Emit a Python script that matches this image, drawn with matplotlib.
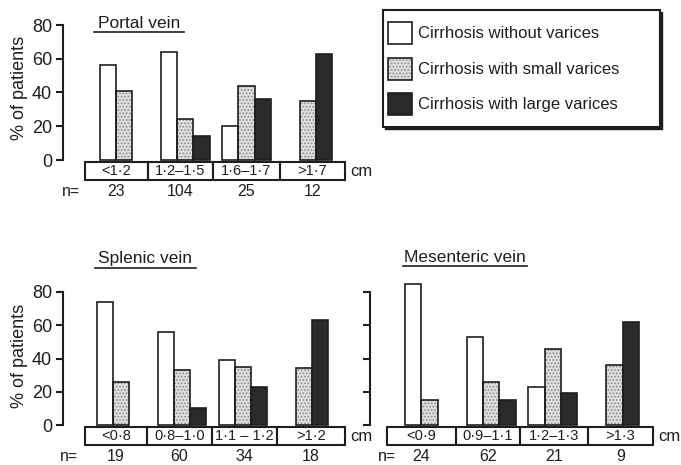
import numpy as np
import matplotlib
matplotlib.use("Agg")
import matplotlib.pyplot as plt
from matplotlib.patches import Rectangle
from matplotlib.lines import Line2D
import matplotlib.transforms as mtransforms

plt.rcParams['font.family'] = ['Liberation Sans', 'DejaVu Sans']
plt.rcParams['hatch.linewidth'] = 0.8

# ---- data ----
portal_cats = ["<1·2", "1·2–1·5", "1·6–1·7", ">1·7"]
portal_n = [23, 104, 25, 12]
portal_none = [56, 64, 20, None]
portal_small = [41, 24, 44, 35]
portal_large = [None, 14, 36, 63]

splenic_cats = ["<0·8", "0·8–1·0", "1·1 – 1·2", ">1·2"]
splenic_n = [19, 60, 34, 18]
splenic_none = [74, 56, 39, None]
splenic_small = [26, 33, 35, 34]
splenic_large = [None, 10, 23, 63]

mes_cats = ["<0·9", "0·9–1·1", "1·2–1·3", ">1·3"]
mes_n = [24, 62, 21, 9]
mes_none = [85, 53, 23, None]
mes_small = [15, 26, 46, 36]
mes_large = [None, 15, 19, 62]

legend_labels = ["Cirrhosis without varices",
                 "Cirrhosis with small varices",
                 "Cirrhosis with large varices"]

W, H = 681, 465
fig = plt.figure(figsize=(W / 100, H / 100), dpi=100)
fig.patch.set_facecolor("white")

INK = "#1e1e1e"
DOTS = "#8c8c8c"
faces = ["white", "#dedede", "#2a2a2a"]
hatches = [None, ".....", None]
BW = 0.265


def fx(px):
    return px / W


def fy(py):
    return 1 - py / H


def panel(spine_px, g0_px, step_px, top_px, bottom_px, box_px,
          cats, ns, series, labels_on, n_y, n_x):
    xmax = 3.7
    xmin = (spine_px - g0_px) / step_px
    right_px = g0_px + xmax * step_px
    ax = fig.add_axes([fx(spine_px), fy(bottom_px),
                       (right_px - spine_px) / W, (bottom_px - top_px) / H])
    ax.set_xlim(xmin, xmax)
    ax.set_ylim(0, 80)
    x = np.arange(len(cats))
    for k, vals in enumerate(series):
        for xi, v in zip(x, vals):
            if v is None:
                continue
            pos = xi + (k - 1) * BW
            # fill (with stipple for the middle series), then outline
            ax.bar(pos, v, BW, color=faces[k], hatch=hatches[k],
                   edgecolor=DOTS, linewidth=0, clip_on=False, zorder=3)
            ax.bar(pos, v, BW, fill=False, edgecolor=INK, linewidth=1.2,
                   clip_on=False, zorder=4)
    for s in ["top", "right", "bottom"]:
        ax.spines[s].set_visible(False)
    ax.spines["left"].set_linewidth(1.5)
    ax.spines["left"].set_color(INK)
    ax.set_xticks([])
    ax.set_yticks([0, 20, 40, 60, 80])
    ax.tick_params(axis="y", direction="out", length=5, width=1.5,
                   color=INK, labelsize=13, pad=3, labelcolor=INK)
    if not labels_on:
        ax.set_yticklabels([])
    ax.set_facecolor("none")

    # category boxes under the axis
    h = bottom_px - top_px
    trans = mtransforms.blended_transform_factory(ax.transData, ax.transAxes)
    edges = [(p - g0_px) / step_px for p in box_px]
    y_top = -2 / h
    y_bot = -20 / h
    for i, lab in enumerate(cats):
        ax.add_patch(Rectangle((edges[i], y_bot), edges[i + 1] - edges[i],
                               y_top - y_bot, transform=trans, fill=False,
                               edgecolor=INK, linewidth=1.5, clip_on=False))
        cx = (edges[i] + edges[i + 1]) / 2
        ax.text(cx, (y_top + y_bot) / 2, lab, transform=trans, ha="center",
                va="center", fontsize=10.5, color=INK)
        fig.text(fx(box_px[i] + (box_px[i + 1] - box_px[i]) / 2), fy(n_y),
                 str(ns[i]), ha="center", va="center", fontsize=11.5, color=INK)
    ax.text(edges[-1] + 5 / step_px, (y_top + y_bot) / 2, "cm",
            transform=trans, ha="left", va="center", fontsize=12, color=INK)
    fig.text(fx(n_x), fy(n_y), "n=", ha="left", va="center", fontsize=11.5,
             color=INK)
    return ax


ax1 = panel(63, 124, 61.3, 25, 160, [85, 148, 213, 280, 345],
            portal_cats, portal_n, [portal_none, portal_small, portal_large],
            True, 192, 62)
ax2 = panel(63, 121, 61.0, 292, 425, [85, 147, 212, 277, 345],
            splenic_cats, splenic_n, [splenic_none, splenic_small, splenic_large],
            True, 456, 60)
ax3 = panel(370, 429.5, 61.7, 292, 425, [387, 456, 520, 588, 653],
            mes_cats, mes_n, [mes_none, mes_small, mes_large],
            False, 456, 378)

# y labels
fig.text(fx(20), fy(88), "% of patients", rotation=90, ha="center",
         va="center", fontsize=13, color=INK)
fig.text(fx(20), fy(356), "% of patients", rotation=90, ha="center",
         va="center", fontsize=13, color=INK)

# underlined panel titles
for txt, x0, x1, yt, yu in [("Portal vein", 94, 184, 24, 32),
                            ("Splenic vein", 95, 196, 258, 268),
                            ("Mesenteric vein", 403, 527, 257, 266)]:
    fig.text(fx((x0 + x1) / 2), fy(yt), txt, ha="center", va="center",
             fontsize=12.5, color=INK)
    fig.add_artist(Line2D([fx(x0), fx(x1)], [fy(yu), fy(yu)], color=INK,
                          linewidth=1.2))

# legend box with shadow
lg = fig.add_axes([fx(383), fy(131), fx(283), (131 - 10) / H])
lg.set_xlim(383, 666)
lg.set_ylim(131, 10)
lg.axis("off")
lg.add_patch(Rectangle((385, 12), 277, 117, facecolor=INK, edgecolor=INK,
                       linewidth=1.0, clip_on=False))
lg.add_patch(Rectangle((383, 10), 277, 117, facecolor="white", edgecolor=INK,
                       linewidth=1.5, clip_on=False))
for k, (lab, yc) in enumerate(zip(legend_labels, [33, 69, 104])):
    lg.add_patch(Rectangle((388, yc - 11), 24, 22, facecolor=faces[k],
                           hatch=hatches[k], edgecolor=DOTS, linewidth=0))
    lg.add_patch(Rectangle((388, yc - 11), 24, 22, fill=False,
                           edgecolor=INK, linewidth=1.2))
    lg.text(418, yc, lab, ha="left", va="center", fontsize=12, color=INK)

fig.savefig("out.png", dpi=100)
